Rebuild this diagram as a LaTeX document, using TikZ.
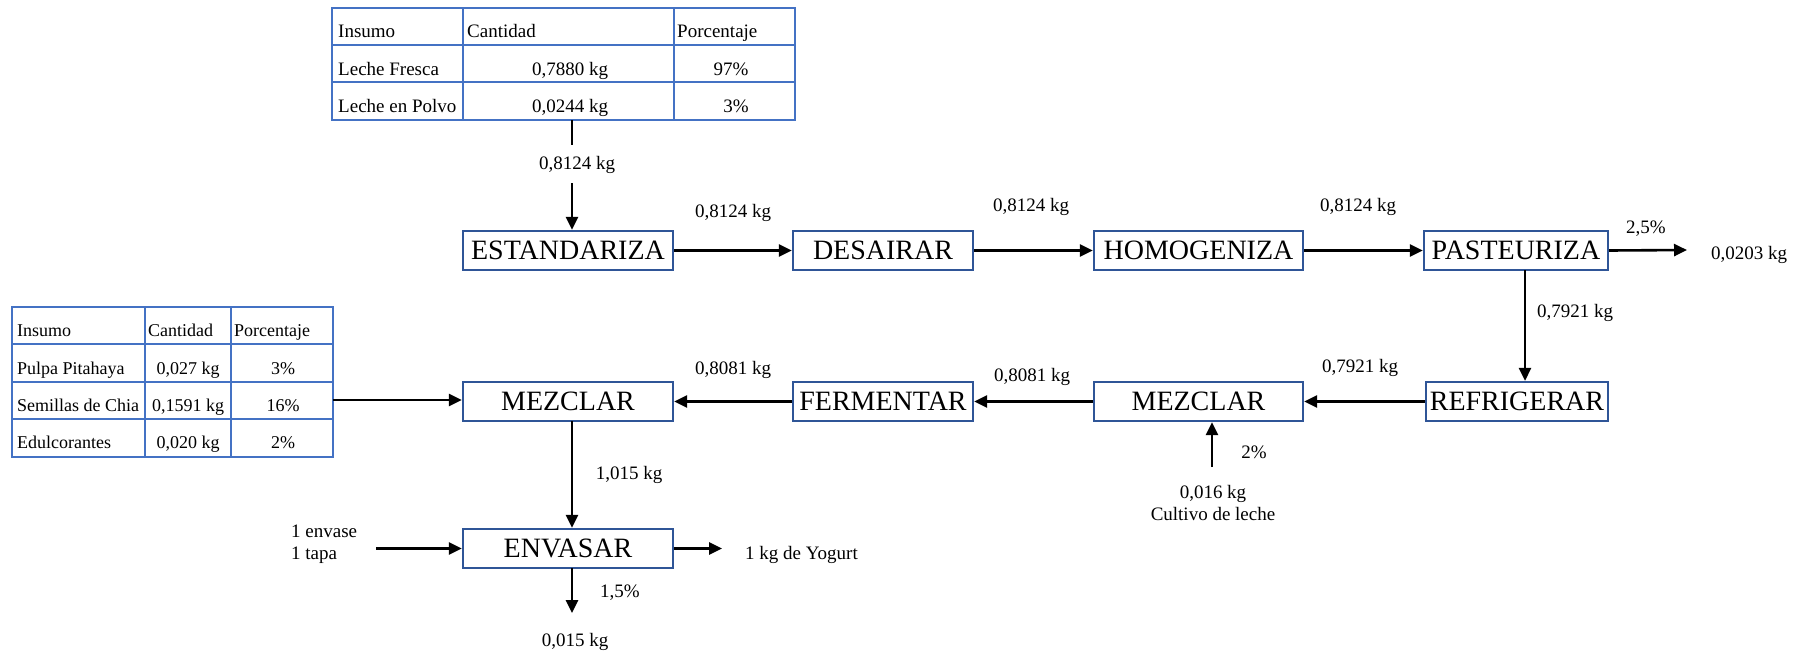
\documentclass[tikz,border=0pt]{standalone}
\usepackage{fontspec}
\setmainfont{Liberation Serif}
\usetikzlibrary{arrows.meta}
\definecolor{boxblue}{RGB}{47,85,151}
\definecolor{tabblue}{RGB}{68,114,196}
\begin{document}
\begin{tikzpicture}[x=1pt,y=-1pt,
  proc/.style={draw=boxblue, line width=2.2pt, inner sep=0pt, minimum height=39pt, font=\fontsize{28}{30}\selectfont},
  lbl/.style={font=\fontsize{19}{22}\selectfont, inner sep=0pt},
  tA/.style={font=\fontsize{19}{22}\selectfont, inner sep=0pt, anchor=base},
  tB/.style={font=\fontsize{18}{21}\selectfont, inner sep=0pt, anchor=base},
  flow/.style={line width=2.6pt, -{Triangle[length=13pt,width=12pt]}},
  plain/.style={line width=2.6pt},
  tline/.style={draw=tabblue, line width=1.5pt}]
\useasboundingbox (0,0) rectangle (1803,654);

% ---------- Table 1 ----------
\draw[tline] (332,8) rectangle (795,120);
\draw[tline] (332,45) -- (795,45) (332,82) -- (795,82) (463,8) -- (463,120) (674,8) -- (674,120);
\node[tA, anchor=base west] (t1a) at (338,37) {Insumo};
\node[tA, anchor=base west] (t1b) at (467,37) {Cantidad};
\node[tA, anchor=base west] (t1c) at (677,37) {Porcentaje};
\node[tA, anchor=base west] (t1d) at (338,75) {Leche Fresca};
\node[tA] (t1e) at (570,75) {0,7880 kg};
\node[tA] (t1f) at (731,75) {97\%};
\node[tA, anchor=base west] (t1g) at (338,112) {Leche en Polvo};
\node[tA] (t1h) at (570,112) {0,0244 kg};
\node[tA] (t1i) at (736,112) {3\%};

% ---------- Table 2 ----------
\draw[tline] (12,307) rectangle (333,457);
\draw[tline] (12,344) -- (333,344) (12,382) -- (333,382) (12,419) -- (333,419) (145,307) -- (145,457) (231,307) -- (231,457);
\node[tB, anchor=base west] (t2a) at (17,336) {Insumo};
\node[tB, anchor=base west] (t2b) at (148,336) {Cantidad};
\node[tB, anchor=base west] (t2c) at (234,336) {Porcentaje};
\node[tB, anchor=base west] (t2d) at (17,374) {Pulpa Pitahaya};
\node[tB] (t2e) at (188,374) {0,027 kg};
\node[tB] (t2f) at (283,374) {3\%};
\node[tB, anchor=base west] (t2g) at (17,411) {Semillas de Chia};
\node[tB] (t2h) at (188,411) {0,1591 kg};
\node[tB] (t2i) at (283,411) {16\%};
\node[tB, anchor=base west] (t2j) at (17,448) {Edulcorantes};
\node[tB] (t2k) at (188,448) {0,020 kg};
\node[tB] (t2l) at (283,448) {2\%};

% ---------- Process boxes ----------
\node[proc, minimum width=210pt] (est) at (568,250.5) {ESTANDARIZA};
\node[proc, minimum width=180pt] (des) at (883,250.5) {DESAIRAR};
\node[proc, minimum width=209pt] (hom) at (1198.5,250.5) {HOMOGENIZA};
\node[proc, minimum width=184pt] (pas) at (1516,250.5) {PASTEURIZA};
\node[proc, minimum width=182pt] (ref) at (1517,401.5) {REFRIGERAR};
\node[proc, minimum width=209pt] (mez2) at (1198.5,401.5) {MEZCLAR};
\node[proc, minimum width=180pt] (fer) at (883,401.5) {FERMENTAR};
\node[proc, minimum width=210pt] (mez1) at (568,401.5) {MEZCLAR};
\node[proc, minimum width=210pt] (env) at (568,548.5) {ENVASAR};

% ---------- Coordinates ----------
\coordinate (t1out) at (572,120);
\coordinate (t1mid) at (572,145);
\coordinate (a1) at (572,183);
\coordinate (waste1) at (1687,250);
\coordinate (p1) at (1525,270);
\coordinate (t2out) at (333,400);
\coordinate (cult) at (1212,467);
\coordinate (m1) at (572,421);
\coordinate (envin) at (376,548.5);
\coordinate (envout) at (722,548.5);
\coordinate (e3) at (572,568);
\coordinate (e4) at (572,613);

% ---------- Connectors ----------
\draw[plain] (t1out) -- (t1mid);
\draw[flow] (a1) -- (a1 |- est.north);
\draw[flow] (est.east) -- (des.west);
\draw[flow] (des.east) -- (hom.west);
\draw[flow] (hom.east) -- (pas.west);
\draw[flow] (pas.east) -- (waste1);
\draw[flow] (p1) -- (p1 |- ref.north);
\draw[flow] (ref.west) -- (mez2.east);
\draw[flow] (mez2.west) -- (fer.east);
\draw[flow] (fer.west) -- (mez1.east);
\draw[flow] (t2out) -- (t2out -| mez1.west);
\draw[flow] (cult) -- (cult |- mez2.south);
\draw[flow] (m1) -- (m1 |- env.north);
\draw[flow] (envin) -- (env.west);
\draw[flow] (env.east) -- (envout);
\draw[flow] (e3) -- (e4);

% ---------- Labels ----------
\node[lbl] (l1) at (577,165) {0,8124 kg};
\node[lbl] (l2) at (733,213) {0,8124 kg};
\node[lbl] (l3) at (1031,207) {0,8124 kg};
\node[lbl] (l4) at (1358,207) {0,8124 kg};
\node[lbl] (l5) at (1646,229) {2,5\%};
\node[lbl] (l6) at (1749,255) {0,0203 kg};
\node[lbl] (l7) at (1575,313) {0,7921 kg};
\node[lbl] (l8) at (1360,368) {0,7921 kg};
\node[lbl] (l9) at (1032,377) {0,8081 kg};
\node[lbl] (l10) at (733,370) {0,8081 kg};
\node[lbl] (l11) at (1254,452) {2\%};
\node[lbl, align=center] (l12) at (1213,503) {0,016 kg\\Cultivo de leche};
\node[lbl] (l13) at (629,475) {1,015 kg};
\node[lbl, align=left, anchor=west] (l14) at (291,544) {1 envase\\1 tapa};
\node[lbl, anchor=west] (l15) at (745,555) {1 kg de Yogurt};
\node[lbl] (l16) at (620,593) {1,5\%};
\node[lbl] (l17) at (575,642) {0,015 kg};
\end{tikzpicture}
\end{document}
